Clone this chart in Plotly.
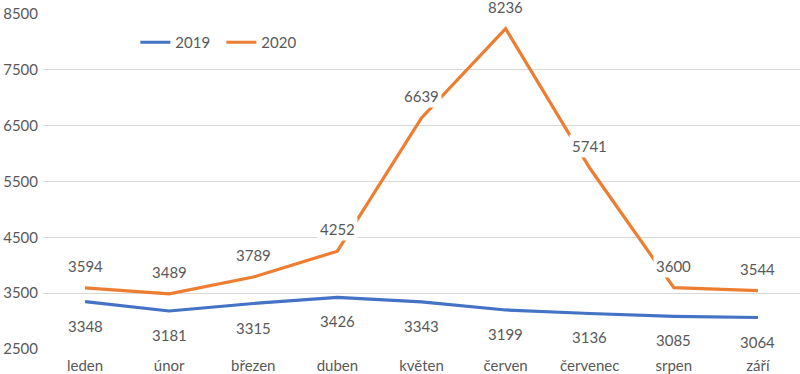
import plotly.graph_objects as go

months = ["leden", "únor", "březen", "duben", "květen", "červen", "červenec", "srpen", "září"]
v2019 = [3348, 3181, 3315, 3426, 3343, 3199, 3136, 3085, 3064]
v2020 = [3594, 3489, 3789, 4252, 6639, 8236, 5741, 3600, 3544]
yticks = [2500, 3500, 4500, 5500, 6500, 7500, 8500]

BLUE = "#4472C4"
ORANGE = "#ED7D31"
TXT = "#595959"
FONT = "Lato"

fig = go.Figure()
fig.add_trace(go.Scatter(x=months, y=v2019, mode="lines", name="2019",
                         line=dict(color=BLUE, width=3.2)))
fig.add_trace(go.Scatter(x=months, y=v2020, mode="lines", name="2020",
                         line=dict(color=ORANGE, width=3.2)))

ann = []
for m, v in zip(months, v2020):
    ann.append(dict(x=m, y=v, text=str(v), showarrow=False, yshift=22,
                    bgcolor="white", borderpad=2,
                    font=dict(family=FONT, size=15, color=TXT)))
for m, v in zip(months, v2019):
    ann.append(dict(x=m, y=v, text=str(v), showarrow=False, yshift=-24,
                    bgcolor="white", borderpad=2,
                    font=dict(family=FONT, size=15, color=TXT)))

fig.update_layout(
    width=800, height=374,
    margin=dict(l=43, r=0, t=14, b=25),
    paper_bgcolor="white", plot_bgcolor="white",
    font=dict(family=FONT, size=15, color=TXT),
    annotations=ann,
    showlegend=True,
    legend=dict(orientation="h", x=0.122, y=0.915, xanchor="left", yanchor="middle",
                font=dict(family=FONT, size=15, color=TXT), bgcolor="rgba(0,0,0,0)",
                itemwidth=30, entrywidth=41, entrywidthmode="pixels"),
    xaxis=dict(range=[-0.5, 8.5], showgrid=False, showline=False, zeroline=False, ticks="",
               ticklabelstandoff=6,
               tickfont=dict(family=FONT, size=15, color=TXT)),
    yaxis=dict(range=[2500, 8500], tickvals=yticks, showgrid=True, gridcolor="#D9D9D9",
               gridwidth=1, zeroline=False, showline=False, ticks="",
               ticklabelstandoff=4,
               tickfont=dict(family=FONT, size=15, color=TXT)),
)

fig.write_html("out.html", config={"displayModeBar": False},
               post_script="document.body.style.margin='0';")
